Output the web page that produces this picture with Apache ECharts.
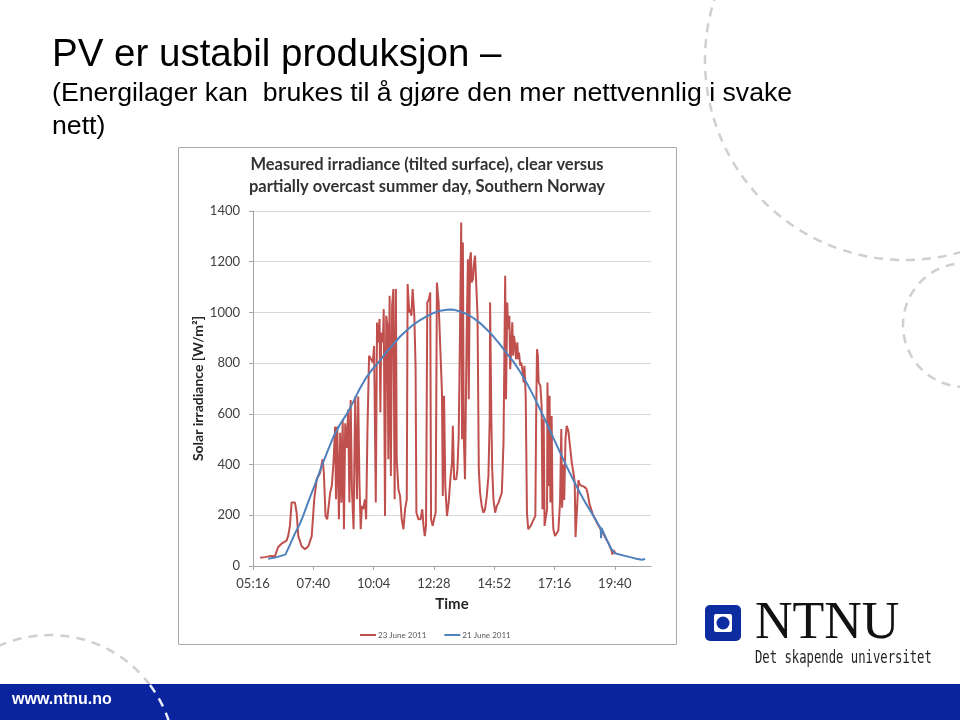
<!DOCTYPE html>
<html>
<head>
<meta charset="utf-8">
<script src="https://cdn.jsdelivr.net/npm/echarts@6/dist/echarts.min.js"></script>
<style>
html,body{margin:0;padding:0;background:#fff;}
#chart{width:960px;height:720px;}
</style>
</head>
<body>
<div id="chart"></div>
<script>
// ---- Data (minutes since midnight, W/m²) ----
const seriesNames = ['23 June 2011', '21 June 2011'];

const redTime = [334,345,357,369,377,385,392,397,401,405,409,417,421,425,433,441,449,457,463,469,477,483,486,490,494,501,505,509,513,515,518,522,525,528,531,534,537,541,544,547,550,553,557,559,561,565,568,571,574,577,580,584,587,590,594,598,603,606,610,613,616,619,621,623,627,629,632,635,638,640,643,646,649,652,655,658,660,664,668,672,676,680,684,686,690,692,695,698,702,705,707,712,717,721,724,727,730,733,737,740,742,746,749,753,756,760,764,768,770,773,776,780,784,788,792,794,797,802,805,808,811,814,816,818,820,823,827,830,832,835,837,839,842,844,847,850,853,856,859,863,867,871,875,879,882,883,886,888,891,895,899,903,907,911,915,917,919,921,924,926,929,931,933,936,938,940,943,945,948,950,952,955,957,960,963,965,968,971,974,977,980,983,987,991,993,995,997,999,1003,1006,1008,1011,1013,1015,1019,1020,1023,1025,1027,1030,1032,1034,1038,1042,1046,1050,1053,1055,1058,1060,1063,1066,1070,1074,1078,1083,1085,1087,1094,1097,1108,1113,1116,1120,1129,1141,1153,1165,1173,1175,1178,1180,1183];
const redValue = [33,35,39,38,75,88,95,100,120,160,250,250,210,118,78,66,78,118,263,342,368,421,368,197,184,289,316,408,550,263,550,184,525,250,576,145,563,466,616,250,655,303,145,440,668,263,668,329,145,237,224,263,184,525,829,829,803,868,250,960,882,974,605,921,882,1013,197,987,947,421,1066,355,1026,1092,263,1092,421,303,276,184,145,224,263,1112,1000,1013,987,1092,987,790,210,184,184,224,158,118,158,1039,1052,1079,184,158,184,210,1118,1039,1039,684,276,671,316,197,250,342,408,553,342,342,382,513,908,1355,500,1276,526,342,908,1210,658,1210,1237,1118,1131,1184,1224,1224,987,382,289,237,210,224,276,355,579,1039,579,382,263,210,237,250,250,289,487,816,1145,658,1039,934,987,776,842,961,829,908,868,816,882,816,842,790,803,776,724,790,671,210,145,145,158,158,184,197,592,855,829,724,711,632,224,579,158,158,224,724,316,671,250,592,224,145,118,118,140,250,540,230,400,260,500,553,530,470,408,355,330,114,339,320,312,305,286,246,200,162,128,92,62,45,63,55,52];

const blueTime = [353,369,394,404,416,429,437,448,461,469,481,493,509,525,541,557,572,588,604,620,636,652,668,684,700,716,732,748,764,780,788,796,811,827,843,859,875,891,907,923,939,955,971,987,1003,1019,1034,1050,1066,1082,1098,1114,1130,1143,1147,1148,1149,1161,1173,1181,1205,1229,1245,1253];
const blueValue = [29,33,45,80,125,167,200,250,305,340,395,445,510,560,600,650,700,745,780,810,845,875,905,930,952,970,985,998,1007,1011,1012,1011,1004,994,978,958,933,905,873,838,805,765,720,670,615,560,505,448,392,338,287,240,197,160,150,110,150,105,65,50,40,30,25,28];

// ---- Axis ticks ----
const xTickValues = [316.8, 460.8, 604.8, 748.8, 892.8, 1036.8, 1180.8];
const xTickLabels = ['05:16', '07:40', '10:04', '12:28', '14:52', '17:16', '19:40'];
const xMin = 316.8, xMax = 1267.2;
const yMin = 0, yMax = 1400, yStep = 200;

const pairs = (t, v) => t.map((x, i) => [x, v[i]]);

const chart = echarts.init(document.getElementById('chart'), null, {renderer: 'canvas'});

const chartFont = 'Lato, "Open Sans", sans-serif';
const slideFont = '"Liberation Sans", Arial, sans-serif';

const option = {
  animation: false,
  backgroundColor: '#ffffff',
  grid: {left: 253, top: 211, width: 398, height: 355, containLabel: false},
  legend: {
    left: 355, top: 626,
    icon: 'rect', itemWidth: 16, itemHeight: 2, itemGap: 18,
    textStyle: {fontSize: 8, color: '#595959', fontFamily: chartFont, padding: [0,0,0,-3]},
    data: seriesNames
  },
  xAxis: {
    type: 'value', min: xMin, max: xMax,
    name: 'Time', nameLocation: 'middle', nameGap: 31,
    nameTextStyle: {fontSize: 15, fontWeight: 'bold', color: '#262626', fontFamily: chartFont},
    axisLine: {show: true, lineStyle: {color: '#A6A6A6', width: 1}},
    axisTick: {show: true, length: 4, customValues: xTickValues, lineStyle: {color: '#A6A6A6'}},
    axisLabel: {
      customValues: xTickValues, margin: 11, fontSize: 13, color: '#404040', fontFamily: chartFont,
      formatter: function (v) {
        let best = 0;
        xTickValues.forEach((t, i) => { if (Math.abs(t - v) < Math.abs(xTickValues[best] - v)) best = i; });
        return xTickLabels[best];
      }
    },
    splitLine: {show: false}
  },
  yAxis: {
    type: 'value', min: yMin, max: yMax, interval: yStep,
    name: 'Solar irradiance [W/m²]', nameLocation: 'middle', nameGap: 44, nameRotate: 90,
    nameTextStyle: {fontSize: 14, fontWeight: 'bold', color: '#262626', fontFamily: chartFont},
    axisLine: {show: true, lineStyle: {color: '#A6A6A6', width: 1}},
    axisTick: {show: true, length: 4, lineStyle: {color: '#A6A6A6'}},
    axisLabel: {margin: 13, fontSize: 13, color: '#404040', fontFamily: chartFont,
      formatter: function (v) { return String(v); }},
    splitLine: {show: true, lineStyle: {color: '#D9D9D9', width: 1}}
  },
  series: [
    {
      name: seriesNames[0], type: 'line', data: pairs(redTime, redValue),
      symbol: 'none', smooth: false, z: 2,
      lineStyle: {color: '#C0504D', width: 2}, itemStyle: {color: '#C0504D'}
    },
    {
      name: seriesNames[1], type: 'line', data: pairs(blueTime, blueValue),
      symbol: 'none', smooth: false, z: 3,
      lineStyle: {color: '#4F81BD', width: 2}, itemStyle: {color: '#4F81BD'}
    }
  ],
  graphic: [
    // decorative dashed circles
    {type: 'circle', silent: true, z: -10, shape: {cx: 905, cy: 60, r: 200},
     style: {fill: 'none', stroke: '#CFCFCF', lineWidth: 2.5, lineDash: [9, 7]}},
    {type: 'circle', silent: true, z: -10, shape: {cx: 965, cy: 325, r: 62},
     style: {fill: 'none', stroke: '#CFCFCF', lineWidth: 2.5, lineDash: [9, 7]}},
    {type: 'arc', silent: true, z: -10, shape: {cx: 50, cy: 760, r: 125, startAngle: -2.0, endAngle: -0.6435, clockwise: true},
     style: {fill: 'none', stroke: '#CFCFCF', lineWidth: 2.5, lineDash: [9, 7]}},
    // bottom bar
    {type: 'rect', silent: true, z: -5, shape: {x: 0, y: 684, width: 960, height: 36},
     style: {fill: '#0A249E'}},
    {type: 'arc', silent: true, z: -4, shape: {cx: 50, cy: 760, r: 125, startAngle: -0.6435, endAngle: -0.28, clockwise: true},
     style: {fill: 'none', stroke: '#E8ECF8', lineWidth: 2.5, lineDash: [9, 7]}},
    {type: 'text', silent: true, x: 12, y: 700,
     style: {text: 'www.ntnu.no', font: 'bold 16px ' + slideFont, fill: '#ffffff', textAlign: 'left', textVerticalAlign: 'middle'}},
    // slide title
    {type: 'text', silent: true, x: 52, y: 55,
     style: {text: 'PV er ustabil produksjon –', font: '38.5px ' + slideFont, fill: '#000000', textAlign: 'left', textVerticalAlign: 'middle'}},
    {type: 'text', silent: true, x: 52, y: 94,
     style: {text: '(Energilager kan  brukes til å gjøre den mer nettvennlig i svake', font: '26.7px ' + slideFont, fill: '#000000', textAlign: 'left', textVerticalAlign: 'middle'}},
    {type: 'text', silent: true, x: 52, y: 127,
     style: {text: 'nett)', font: '26.7px ' + slideFont, fill: '#000000', textAlign: 'left', textVerticalAlign: 'middle'}},
    // chart frame
    {type: 'rect', silent: true, z: -1, shape: {x: 178.5, y: 147.5, width: 498, height: 497},
     style: {fill: 'none', stroke: '#A8A8A8', lineWidth: 1}},
    // chart title
    {type: 'text', silent: true, x: 427, y: 165,
     style: {text: 'Measured irradiance (tilted surface), clear versus', font: 'bold 16.5px ' + chartFont, fill: '#333333', textAlign: 'center', textVerticalAlign: 'middle'}},
    {type: 'text', silent: true, x: 427, y: 187,
     style: {text: 'partially overcast summer day, Southern Norway', font: 'bold 16.5px ' + chartFont, fill: '#333333', textAlign: 'center', textVerticalAlign: 'middle'}},
    // NTNU logo
    {type: 'rect', silent: true, shape: {x: 705, y: 605, width: 36, height: 36, r: 5}, style: {fill: '#0D2CA0'}},
    {type: 'rect', silent: true, shape: {x: 714, y: 614, width: 18, height: 18, r: 2}, style: {fill: '#ffffff'}},
    {type: 'circle', silent: true, shape: {cx: 723, cy: 623, r: 6.5}, style: {fill: '#0D2CA0'}},
    {type: 'text', silent: true, x: 755, y: 624,
     style: {text: 'NTNU', font: '52px "Liberation Serif", "Times New Roman", serif', fill: '#111111', textAlign: 'left', textVerticalAlign: 'middle'}},
    {type: 'text', silent: true, x: 755, y: 659, scaleX: 0.72,
     style: {text: 'Det skapende universitet', font: '17px "DejaVu Sans Mono", monospace', fill: '#222222', textAlign: 'left', textVerticalAlign: 'middle'}}
  ]
};

chart.setOption(option);
</script>
</body>
</html>
